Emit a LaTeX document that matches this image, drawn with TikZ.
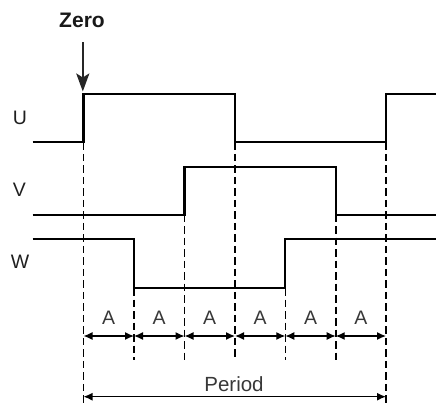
\documentclass[tikz,border=0pt]{standalone}
\usepackage{fontspec}
\setmainfont{Liberation Sans}
\usetikzlibrary{arrows.meta}
\begin{document}
\begin{tikzpicture}[x=1pt,y=-1pt,
  sig/.style={line width=2.2pt,line join=miter},
  guide/.style={line width=1.6pt,dash pattern=on 7.5pt off 4pt},
  dim/.style={line width=1.3pt,{Latex[length=9pt,width=8pt]}-{Latex[length=9pt,width=8pt]}},
  lbl/.style={font=\fontsize{19.5pt}{21pt}\selectfont,text=black!88,inner sep=0pt},
  alb/.style={font=\fontsize{19.5pt}{21pt}\selectfont,text=black!78,inner sep=0pt}]
\useasboundingbox (0,0) rectangle (436,405);
% transition x positions
\def\xa{83.5}\def\xb{134}\def\xc{184.5}\def\xd{235}\def\xe{285.3}\def\xf{335.7}\def\xg{386}
% levels
\def\uh{93.7}\def\ul{142.3}\def\vh{166.7}\def\vl{214.7}\def\wh{239.3}\def\wl{288}
% signals
\draw[sig] (32.5,\ul) -- (\xa,\ul) -- (\xa,\uh) -- (\xd,\uh) -- (\xd,\ul) -- (\xg,\ul) -- (\xg,\uh) -- (436,\uh);
\draw[sig] (32.5,\vl) -- (\xc,\vl) -- (\xc,\vh) -- (\xf,\vh) -- (\xf,\vl) -- (436,\vl);
\draw[sig] (32.5,\wh) -- (\xb,\wh) -- (\xb,\wl) -- (\xe,\wl) -- (\xe,\wh) -- (436,\wh);
% labels
\node[lbl] (U) at (20,117.5) {U};
\node[lbl] (V) at (19.5,190) {V};
\node[lbl] (W) at (20,262) {W};
\node[font=\fontsize{21pt}{23pt}\selectfont\bfseries,text=black!90,inner sep=0pt] (zero) at (82,20) {Zero};
\coordinate (zt) at (82.8,42);
\coordinate (zh) at (82.8,91.5);
\draw[line width=2.4pt,black!85,-{Stealth[length=18pt,width=13pt,inset=4pt]}] (zt) -- (zh);
% guide lines
\coordinate (g0t) at (\xa,\ul); \coordinate (g0b) at (\xa,405);
\coordinate (g1t) at (\xb,\wl); \coordinate (g1b) at (\xb,360);
\coordinate (g2t) at (\xc,\vl); \coordinate (g2b) at (\xc,360);
\coordinate (g3t) at (\xd,\ul); \coordinate (g3b) at (\xd,360);
\coordinate (g4t) at (\xe,\wl); \coordinate (g4b) at (\xe,360);
\coordinate (g5t) at (\xf,\vl); \coordinate (g5b) at (\xf,360);
\coordinate (g6t) at (\xg,\ul); \coordinate (g6b) at (\xg,405);
\foreach \i in {0,...,6} {\draw[guide] (g\i t) -- (g\i b);}
% A dimensions
\foreach \p/\x in {0/\xa,1/\xb,2/\xc,3/\xd,4/\xe,5/\xf,6/\xg} {\coordinate (a\p) at (\x,336);}
\foreach \i/\j in {0/1,1/2,2/3,3/4,4/5,5/6} {
  \draw[dim] (a\i) -- (a\j);
  \path (a\i) -- (a\j) node[midway,yshift=18pt,alb] (A\i) {A};
}
% period
\coordinate (p0) at (\xa,396.7);
\coordinate (p1) at (\xg,396.7);
\draw[dim] (p0) -- (p1);
\node[alb,font=\fontsize{20.5pt}{22pt}\selectfont] (per) at (234,384) {Period};
\end{tikzpicture}
\end{document}
